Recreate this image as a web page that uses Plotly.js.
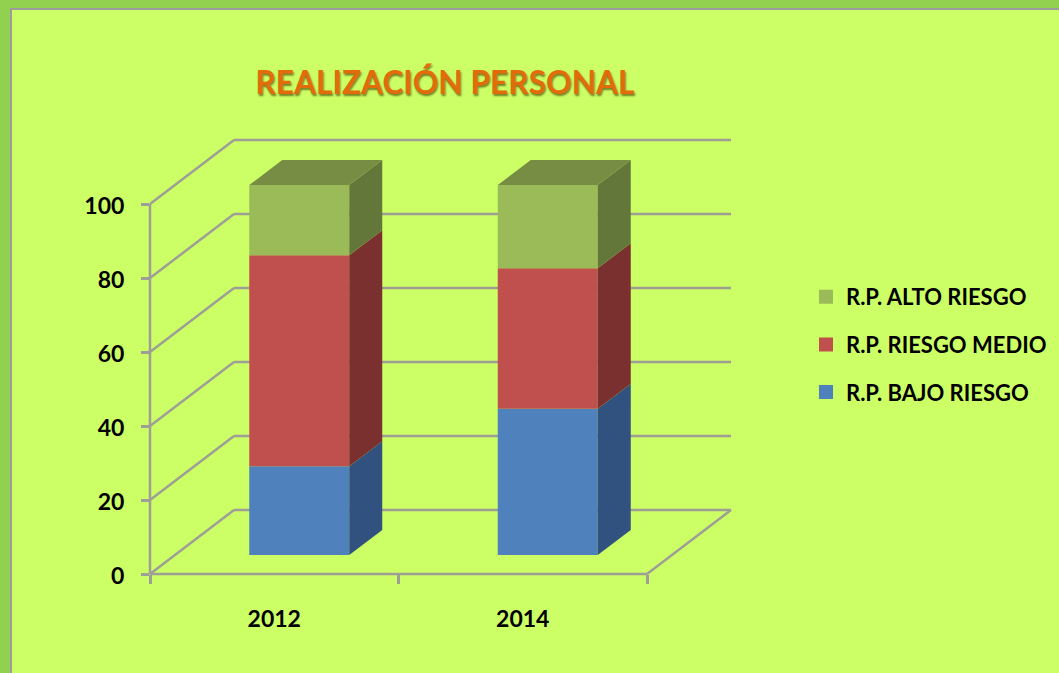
<!DOCTYPE html>
<html>
<head>
<meta charset="utf-8">
<script src="https://cdn.plot.ly/plotly-3.0.1.min.js"></script>
<style>
html,body{margin:0;padding:0;width:1059px;height:673px;overflow:hidden;background:#92D050;}
#chart{position:absolute;left:10px;top:8px;width:1047px;height:663px;border-left:2px solid #9C9C9C;border-top:2px solid #9C9C9C;}
</style>
</head>
<body>
<div id="chart"></div>
<script>
const years = ['2012', '2014'];
const seriesNames = ['R.P. BAJO RIESGO', 'R.P. RIESGO MEDIO', 'R.P. ALTO RIESGO'];
const bajo = [24, 39.5];
const medio = [57, 38];
const alto = [19, 22.5];
const faceColors = ['#4F81BD', '#C0504D', '#9BBB59'];
const sideColors = ['#31527F', '#7A302E', '#64773A'];
const topColor = '#788D44';
const yTicks = [0, 20, 40, 60, 80, 100];
const catTicks = [0, 1, 2];
const catCentres = [0.5, 1.5];

// oblique projection of the 3D box, in axis units
const pxPerCat = 248.5, pxPerUnit = 3.7;
const xRange = [0, 581 / pxPerCat], yRange = [0, 435 / pxPerUnit];
const wallDx = 84 / pxPerCat, wallDy = 64 / pxPerUnit;
const frontDx = 25 / pxPerCat, frontDy = 19 / pxPerUnit;
const sideDx = 33 / pxPerCat, sideDy = 25 / pxPerUnit;
const barW = 100 / pxPerCat;
// bars carry a 2px outline (it also sizes the legend swatch); inset so the outer edge stays true
const insetX = 1 / pxPerCat, insetY = 1 / pxPerUnit;

const px = v => (v - xRange[0]) / (xRange[1] - xRange[0]);
const py = v => (v - yRange[0]) / (yRange[1] - yRange[0]);
const gridColor = '#9E9E96';
const seg = (x0, y0, x1, y1) => ({type: 'line', xref: 'paper', yref: 'paper', layer: 'below',
  x0: px(x0), y0: py(y0), x1: px(x1), y1: py(y1), line: {color: gridColor, width: 2.5}});

const lastCat = catTicks[catTicks.length - 1];
const shapes = [];
yTicks.forEach(v => {
  shapes.push(seg(0, v, wallDx, v + wallDy));
  shapes.push(seg(wallDx, v + wallDy, lastCat + wallDx, v + wallDy));
});
shapes.push(seg(0, 0, lastCat, 0));
shapes.push(seg(lastCat, 0, lastCat + wallDx, wallDy));
shapes.push(seg(0, 0, 0, yTicks[yTicks.length - 1]));

const stacks = [bajo, medio, alto];
const traces = [];
const running = years.map(() => 0);
stacks.forEach((vals, s) => {
  const bases = vals.map((v, i) => running[i] + frontDy);
  traces.push({
    type: 'bar', name: seriesNames[s], legendgroup: seriesNames[s], legendrank: stacks.length - s,
    x: catCentres.map(c => c + frontDx),
    y: vals.map(v => v - 2 * insetY), base: bases.map(b => b + insetY), width: barW - 2 * insetX,
    marker: {color: faceColors[s], line: {color: faceColors[s], width: 2}},
    text: vals.map(String), textposition: 'none', hoverinfo: 'name+text'
  });
  vals.forEach((v, i) => {
    const r = catCentres[i] + frontDx + barW / 2;
    const b = bases[i], t = b + v;
    traces.push({
      type: 'scatter', mode: 'none', fill: 'toself', fillcolor: sideColors[s], showlegend: false, hoverinfo: 'skip',
      x: [r, r + sideDx, r + sideDx, r, r], y: [b, b + sideDy, t + sideDy, t, b]
    });
    running[i] += v;
  });
});
years.forEach((y, i) => {
  const l = catCentres[i] + frontDx - barW / 2, r = l + barW, t = running[i] + frontDy;
  traces.push({
    type: 'scatter', mode: 'none', fill: 'toself', fillcolor: topColor, showlegend: false, hoverinfo: 'skip',
    x: [l, r, r + sideDx, l + sideDx, l], y: [t, t, t + sideDy, t + sideDy, t]
  });
});

const layout = {
  width: 1047, height: 663,
  margin: {l: 138, r: 328, t: 129, b: 99, pad: 0},
  paper_bgcolor: '#CCFF66', plot_bgcolor: 'rgba(0,0,0,0)',
  barmode: 'overlay',
  font: {family: 'Lato, sans-serif', color: '#000'},
  title: {
    text: '<b>REALIZACIÓN PERSONAL</b>',
    x: (445 - 12) / 1047, xref: 'container', xanchor: 'center',
    y: 1 - (83 - 10) / 663, yref: 'container', yanchor: 'middle',
    font: {family: 'Lato, sans-serif', size: 31.7, color: '#E36C0A', shadow: '1px 2px 2px rgba(70,60,0,0.65)'}
  },
  xaxis: {
    range: xRange, fixedrange: true, showgrid: false, zeroline: false, showline: false,
    tickmode: 'array', tickvals: catCentres, ticktext: years.map(y => '<b>' + y + '</b>'), ticks: '',
    ticklabelstandoff: 29, tickfont: {size: 23, color: '#000'},
    minor: {tickmode: 'array', tickvals: catTicks, ticks: 'outside', ticklen: 9, tickwidth: 2.5, tickcolor: gridColor, showgrid: false}
  },
  yaxis: {
    range: yRange, fixedrange: true, showgrid: false, zeroline: false, showline: false,
    tickmode: 'array', tickvals: yTicks, ticktext: yTicks.map(v => '<b>' + v + '</b>'),
    ticks: 'outside', ticklen: 8, tickwidth: 2.5, tickcolor: gridColor,
    ticklabelstandoff: 12, ticklabelshift: 2, tickfont: {size: 23, color: '#000'}
  },
  legend: {
    x: (806 - 12) / 1047, xref: 'container', xanchor: 'left',
    y: 1 - (276 - 10) / 663, yref: 'container', yanchor: 'top',
    traceorder: 'grouped', tracegroupgap: 16,
    bgcolor: 'rgba(0,0,0,0)', itemclick: false, itemdoubleclick: false,
    font: {size: 22, color: '#000', weight: 700, family: 'Lato, sans-serif'}
  },
  shapes: shapes
};
Plotly.newPlot('chart', traces, layout, {displayModeBar: false, responsive: false});
</script>
</body>
</html>
